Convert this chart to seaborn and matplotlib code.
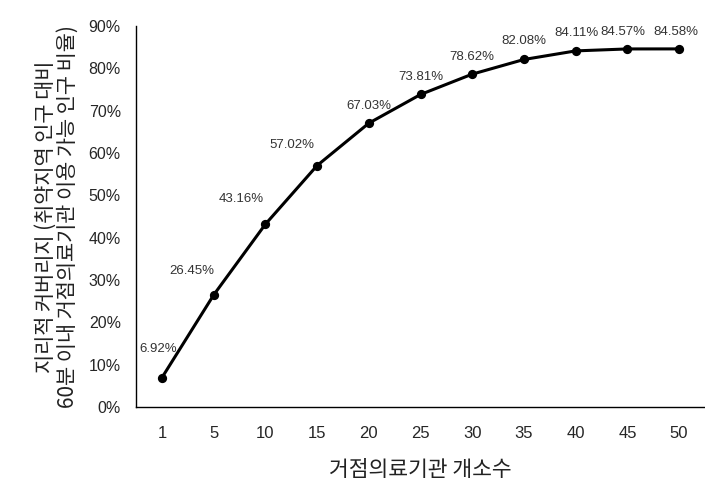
import matplotlib
matplotlib.use("Agg")
import matplotlib.pyplot as plt
import seaborn as sns
import pandas as pd

facilities = ["1", "5", "10", "15", "20", "25", "30", "35", "40", "45", "50"]
coverage = [6.92, 26.45, 43.16, 57.02, 67.03, 73.81, 78.62, 82.08, 84.11, 84.57, 84.58]
yticks = [0, 10, 20, 30, 40, 50, 60, 70, 80, 90]
xlabel = "거점의료기관 개소수"
ylabel = "지리적 커버리지 (취약지역 인구 대비\n60분 이내 거점의료기관 이용 가능 인구 비율)"

# label placement offsets (pixels) - styling only
label_dx = [-4, -22, -24, -25, 0, 0, 0, 0, 1, -5, -3]
label_dy = [29, 24, 25, 21, 17, 17, 17, 18, 18, 17, 17]

sns.set_style("white")
plt.rcParams['font.family'] = ['DejaVu Sans', 'Noto Sans CJK KR']

df = pd.DataFrame({"n": facilities, "cov": [v / 100 for v in coverage]})

fig = plt.figure(figsize=(7.05, 4.86), dpi=100)
ax = fig.add_axes([0.193, 0.1626, 0.807, 0.784])

sns.pointplot(data=df, x="n", y="cov", color="black", ax=ax,
              markers="o", markersize=5, linewidth=2.2)

ax.set_ylim(0, 0.9)
ax.set_xlim(-0.5, len(facilities) - 0.5)
ax.set_yticks([t / 100 for t in yticks])
ax.set_yticklabels([f"{t}%" for t in yticks], fontsize=11.5, family=['Liberation Sans', 'DejaVu Sans'])
ax.set_xticks(range(len(facilities)))
ax.set_xticklabels(facilities, fontsize=12, family=['Liberation Sans', 'DejaVu Sans'])
ax.tick_params(axis='y', length=0, pad=11)
ax.tick_params(axis='x', length=0, pad=14)

for i, v in enumerate(coverage):
    ax.annotate(f"{v:.2f}%", (i, v / 100), xytext=(label_dx[i], label_dy[i]),
                textcoords='offset pixels', ha='center', va='center',
                fontsize=9.5, color='#333333',
                family=['Liberation Sans', 'DejaVu Sans'])

ax.set_xlabel(xlabel, fontsize=15.5, family=['Noto Sans CJK KR'], labelpad=13, color='#222222')
ax.set_ylabel(ylabel, fontsize=15, family=['Noto Sans CJK KR'], labelpad=7, color='#222222',
              linespacing=1.0)

for s in ['top', 'right']:
    ax.spines[s].set_visible(False)
for s in ['left', 'bottom']:
    ax.spines[s].set_color('black')
    ax.spines[s].set_linewidth(1.0)
ax.grid(False)

fig.savefig("out.png", dpi=100)
